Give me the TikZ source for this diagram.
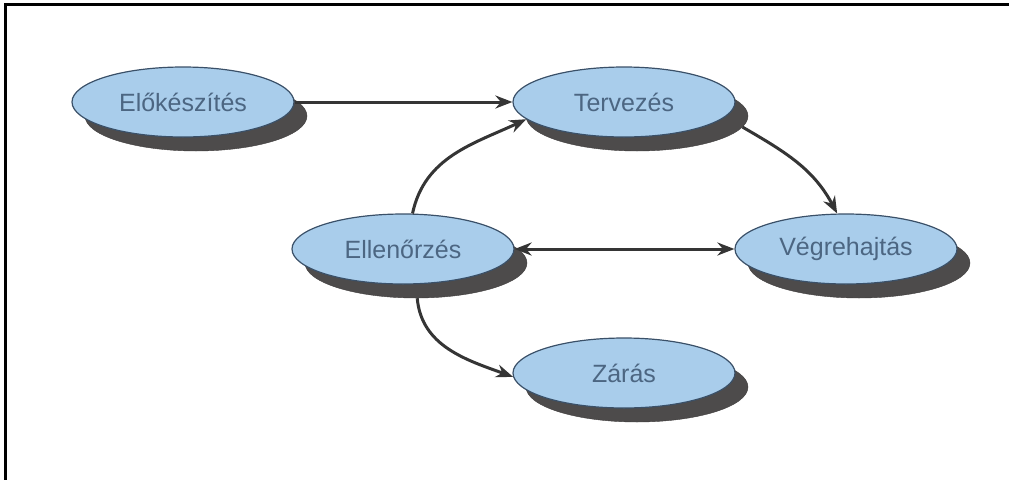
\documentclass[tikz,border=0pt]{standalone}
\usepackage{fontspec}
\setmainfont{Liberation Sans}
\usetikzlibrary{arrows.meta,shapes.geometric}
\definecolor{phasefill}{HTML}{A9CDEB}
\definecolor{phaseedge}{HTML}{3A5068}
\definecolor{phasetext}{HTML}{4C6682}
\definecolor{shadowgray}{HTML}{4D4B4B}
\definecolor{linkgray}{HTML}{353535}
\tikzset{
  phase/.style={ellipse, draw=phaseedge, line width=1.2pt, fill=phasefill,
    minimum width=222pt, minimum height=70pt, inner sep=0pt,
    text=phasetext, font=\fontsize{25}{30}\selectfont},
  phaseshadow/.style={ellipse, fill=shadowgray, draw=shadowgray!80!black,
    minimum width=222pt, minimum height=70pt, inner sep=0pt},
  link/.style={draw=linkgray, line width=3pt,
    -{Stealth[length=17pt,width=13pt]}},
  twolink/.style={draw=linkgray, line width=3pt,
    {Stealth[length=17pt,width=13pt]}-{Stealth[length=17pt,width=13pt]}},
}
\begin{document}
\begin{tikzpicture}[x=1pt,y=-1pt]
\useasboundingbox (0,0) rectangle (1009,480);
% open frame: top and left edges only
\draw[line width=3pt] (4,4.5) -- (1009,4.5);
\draw[line width=2.5pt] (5.5,3) -- (5.5,480);

% drop shadows
\node[phaseshadow] (elo-s) at (196,116) {};
\node[phaseshadow] (terv-s) at (637,116) {};
\node[phaseshadow] (ell-s) at (416,263) {};
\node[phaseshadow] (veg-s) at (859,263) {};
\node[phaseshadow] (zar-s) at (637,387) {};

% phases
\node[phase] (elo) at (183,102) {Előkészítés};
\node[phase] (terv) at (624,102) {Tervezés};
\node[phase] (ell) at (403,249) {Ellenőrzés};
\node[phase] (veg) at (846,249) {Végrehajtás};
\node[phase] (zar) at (624,373) {Zárás};

% transitions
\draw[link] (elo.east) -- (terv.west);
\draw[link] (ell.75) to[out=78,in=205] (terv.190);
\draw[link] (terv-s.-6) to[out=-30,in=118] (veg.104);
\draw[twolink] (ell.east) -- (veg.west);
\draw[link] (ell-s.-88) to[out=-85,in=160] (zar.182);
\end{tikzpicture}
\end{document}
